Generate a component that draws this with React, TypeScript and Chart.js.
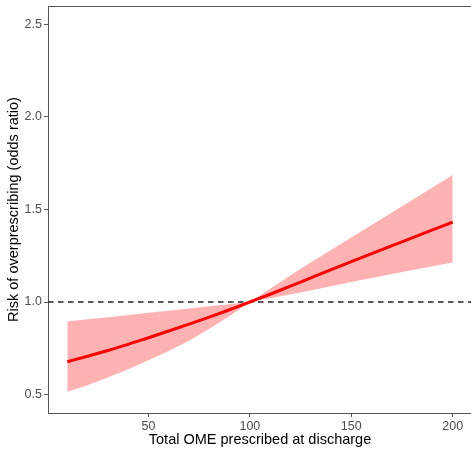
import React, { useEffect, useRef } from "react";
import { Chart, registerables } from "chart.js";

Chart.register(...registerables);

const omeX = [10, 20, 30, 40, 50, 60, 70, 80, 90, 100, 110, 125, 150, 175, 200];
const fitOR = [0.677, 0.707, 0.738, 0.771, 0.807, 0.843, 0.88, 0.918, 0.958, 1.0, 1.042, 1.108, 1.218, 1.325, 1.432];
const upperOR = [0.895, 0.907, 0.918, 0.93, 0.942, 0.953, 0.965, 0.977, 0.988, 1.0, 1.072, 1.18, 1.348, 1.518, 1.686];
const lowerOR = [0.515, 0.55, 0.592, 0.637, 0.685, 0.735, 0.79, 0.855, 0.925, 1.0, 1.02, 1.052, 1.108, 1.162, 1.213];
const refX = [0.5, 209.5];
const refY = [1.0, 1.0];
const xTicks = [50, 100, 150, 200];
const yTicks = [0.5, 1.0, 1.5, 2.0, 2.5];

const FONT = "'Liberation Sans', Arial, sans-serif";

const frame = {
  id: "frame",
  afterDatasetsDraw(chart: any) {
    const { ctx, chartArea } = chart;
    ctx.save();
    ctx.strokeStyle = "#555555";
    ctx.lineWidth = 1;
    ctx.beginPath();
    ctx.moveTo(chartArea.left, chartArea.top + 0.5);
    ctx.lineTo(chartArea.right, chartArea.top + 0.5);
    ctx.moveTo(chartArea.right - 0.5, chartArea.top);
    ctx.lineTo(chartArea.right - 0.5, chartArea.bottom);
    ctx.stroke();
    ctx.restore();
  },
};

export default function App() {
  const ref = useRef<HTMLCanvasElement>(null);
  useEffect(() => {
    const pts = (ys: number[]) => omeX.map((x, i) => ({ x, y: ys[i] }));
    const chart = new Chart(ref.current!, {
      type: "line",
      data: {
        datasets: [
          {
            data: pts(upperOR),
            borderWidth: 0,
            pointRadius: 0,
            backgroundColor: "rgba(255,0,0,0.3)",
            fill: "+1",
            tension: 0,
            order: 3,
          },
          {
            data: pts(lowerOR),
            borderWidth: 0,
            pointRadius: 0,
            fill: false,
            tension: 0,
            order: 3,
          },
          {
            data: refX.map((x, i) => ({ x, y: refY[i] })),
            borderColor: "#222222",
            borderWidth: 1.5,
            borderDash: [5.5, 4.5],
            pointRadius: 0,
            fill: false,
            order: 2,
          },
          {
            data: pts(fitOR),
            borderColor: "#FF0000",
            borderWidth: 3,
            pointRadius: 0,
            fill: false,
            cubicInterpolationMode: "monotone",
            order: 1,
          },
        ],
      } as any,
      options: {
        animation: false,
        responsive: false,
        layout: { padding: { top: 6, right: 8, left: 0, bottom: 0 } },
        plugins: { legend: { display: false }, tooltip: { enabled: false } },
        scales: {
          x: {
            type: "linear",
            min: 0.5,
            max: 209.5,
            afterBuildTicks: (s: any) => {
              s.ticks = xTicks.map((v) => ({ value: v }));
            },
            afterFit: (s: any) => {
              s.height = 36;
              s.paddingLeft = 0;
              s.paddingRight = 0;
            },
            ticks: {
              color: "#4D4D4D",
              font: { family: FONT, size: 12.5 },
              padding: 2,
              maxRotation: 0,
              callback: (v: any) => String(v),
            },
            grid: { drawOnChartArea: false, tickLength: 4, tickColor: "#555555" },
            border: { color: "#555555", width: 1 },
            title: {
              display: true,
              text: "Total OME prescribed at discharge",
              color: "#000000",
              font: { family: FONT, size: 14.5 },
              padding: { top: 0, bottom: 0 },
            },
          },
          y: {
            type: "linear",
            min: 0.4,
            max: 2.6,
            afterBuildTicks: (s: any) => {
              s.ticks = yTicks.map((v) => ({ value: v }));
            },
            afterFit: (s: any) => {
              s.width = 48;
              s.paddingTop = 0;
              s.paddingBottom = 0;
            },
            ticks: {
              color: "#4D4D4D",
              font: { family: FONT, size: 12.5 },
              padding: 2,
              callback: (v: any) => Number(v).toFixed(1),
            },
            grid: { drawOnChartArea: false, tickLength: 4, tickColor: "#555555" },
            border: { color: "#555555", width: 1 },
            title: {
              display: true,
              text: "Risk of overprescribing (odds ratio)",
              color: "#000000",
              font: { family: FONT, size: 14.5 },
              padding: { top: 5, bottom: 4 },
            },
          },
        },
      },
      plugins: [frame],
    });
    return () => chart.destroy();
  }, []);
  return (
    <div style={{ position: "absolute", left: 0, top: 0, width: 471, height: 449, overflow: "hidden", background: "#fff" }}>
      <canvas ref={ref} width={480} height={449} style={{ display: "block" }} />
    </div>
  );
}
